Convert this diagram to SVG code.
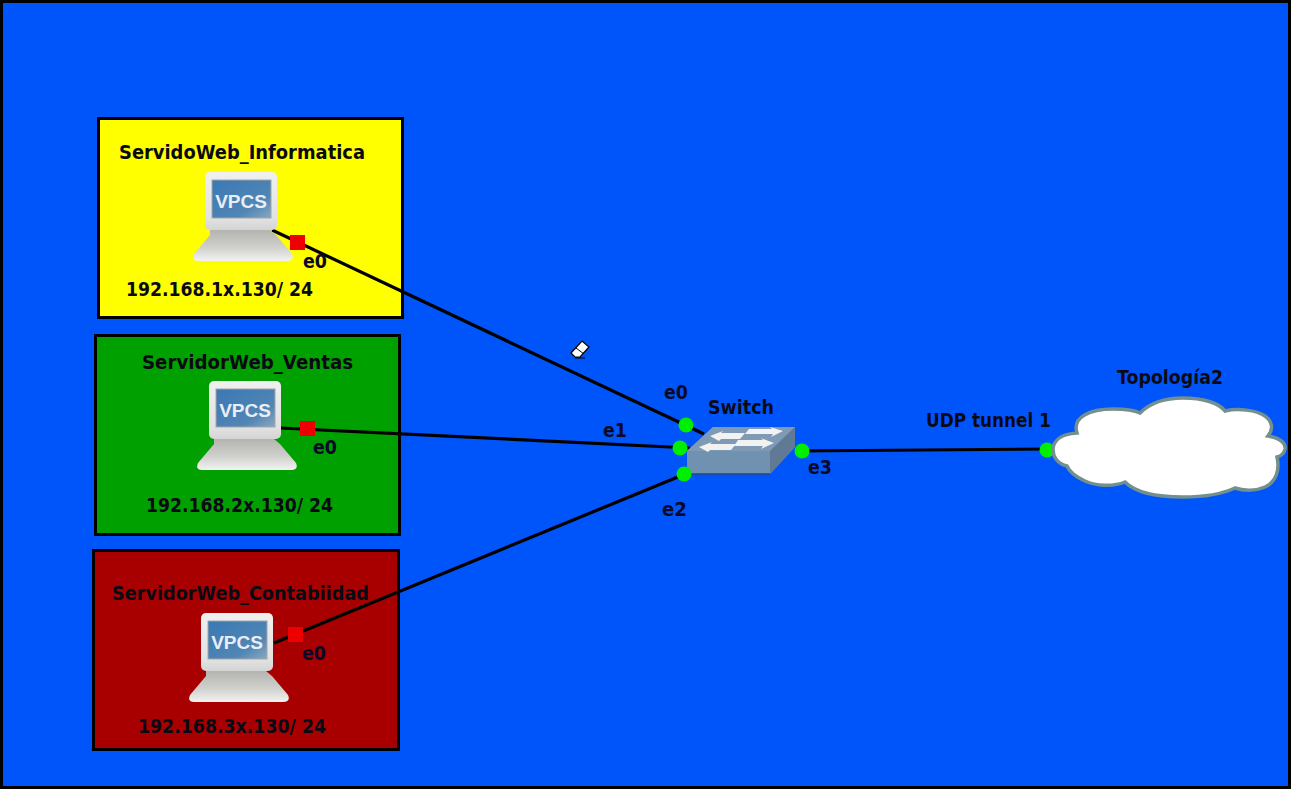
<svg xmlns="http://www.w3.org/2000/svg" width="1291" height="789" viewBox="0 0 1291 789">
<style>
.lbl{font-family:"DejaVu Sans",Verdana,sans-serif;font-size:20px;font-weight:bold;fill:#0a0a14}
.port{font-family:"DejaVu Sans",Verdana,sans-serif;font-size:20px;font-weight:bold;fill:#0a0a28}
.area{stroke:#000;stroke-width:3}
.link{stroke:#000;stroke-width:3.200;fill:none}
.up{fill:#00ee00}
.down{fill:#ee0000}
.vp{font-family:"Liberation Sans",Arial,sans-serif;font-size:19px;font-weight:bold;fill:#e8eef4;text-anchor:middle}
</style>
<defs>
<linearGradient id="gMon" x1="0" y1="0" x2="0" y2="1"><stop offset="0" stop-color="#f0f0f0"/><stop offset=".8" stop-color="#e2e2e2"/><stop offset="1" stop-color="#d4d4d4"/></linearGradient>
<linearGradient id="gBase" x1="0" y1="0" x2="0" y2="1"><stop offset="0" stop-color="#b4b4b0"/><stop offset=".55" stop-color="#cfcfcc"/><stop offset="1" stop-color="#f2f2f2"/></linearGradient>
<linearGradient id="gScr" x1="0" y1="0" x2="1" y2="1"><stop offset="0" stop-color="#3a78b4"/><stop offset=".7" stop-color="#5186b4"/><stop offset="1" stop-color="#88a8c4"/></linearGradient>
<g id="vpcs">
<path d="M5 58H65L71 63 87 82Q90 89 82 89H-7Q-14 89-11 82L5 63Z" fill="url(#gBase)"/>
<rect x="0" y="0" width="72" height="58" rx="5" fill="url(#gMon)"/>
<rect x="7" y="8" width="59" height="38" fill="url(#gScr)" stroke="#a6a6a6"/>
<text class="vp" x="36" y="36">VPCS</text>
</g>
</defs>
<rect x="1.500" y="1.500" width="1288" height="786" fill="#0055fa" stroke="#000" stroke-width="3"/>

<rect id="area-informatica" class="area" x="98.500" y="118.500" width="304" height="199" fill="#ffff00"/>
<rect id="area-ventas" class="area" x="95.500" y="335.500" width="304" height="199" fill="#00a000"/>
<rect id="area-contabilidad" class="area" x="93.500" y="550.500" width="305" height="199" fill="#a80000"/>

<g id="connectors">
<line class="link" x1="272" y1="230" x2="704" y2="434"/>
<line class="link" x1="280" y1="428" x2="690" y2="448"/>
<line class="link" x1="274" y1="643" x2="690" y2="472"/>
<line class="link" x1="795" y1="451" x2="1050" y2="449"/>
</g>

<g id="ServidoWeb_Informatica">
<use href="#vpcs" x="205" y="172"/>
<text class="lbl" x="119" y="159" textLength="246" lengthAdjust="spacingAndGlyphs">ServidoWeb_Informatica</text>
<text class="lbl" x="126" y="296" textLength="187" lengthAdjust="spacingAndGlyphs">192.168.1x.130/ 24</text>
<rect class="down" x="290" y="235" width="15" height="15"/>
<text class="port" x="303" y="268" textLength="24" lengthAdjust="spacingAndGlyphs">e0</text>
</g>
<g id="ServidorWeb_Ventas">
<use href="#vpcs" x="209" y="381"/>
<text class="lbl" x="142" y="369" textLength="211" lengthAdjust="spacingAndGlyphs">ServidorWeb_Ventas</text>
<text class="lbl" x="146" y="512" textLength="187" lengthAdjust="spacingAndGlyphs">192.168.2x.130/ 24</text>
<rect class="down" x="300" y="421" width="15" height="15"/>
<text class="port" x="313" y="454" textLength="24" lengthAdjust="spacingAndGlyphs">e0</text>
</g>
<g id="ServidorWeb_Contabiidad">
<use href="#vpcs" x="201" y="613"/>
<text class="lbl" x="112" y="600" textLength="257" lengthAdjust="spacingAndGlyphs">ServidorWeb_Contabiidad</text>
<text class="lbl" x="138" y="733" textLength="188" lengthAdjust="spacingAndGlyphs">192.168.3x.130/ 24</text>
<rect class="down" x="288" y="627" width="15" height="15"/>
<text class="port" x="302" y="660" textLength="24" lengthAdjust="spacingAndGlyphs">e0</text>
</g>

<g id="Switch">
<path d="M687 451L713 427H795V447L770 474H687Z" fill="#6b8cae"/>
<path d="M687 451L713 427H795L770 451Z" fill="#7f9ab4"/>
<path d="M770 451L795 427V447L770 474Z" fill="#607a96"/>
<rect x="687" y="451" width="83" height="23" fill="#7191b1"/>
<path d="M687 474H770" stroke="#1f4a80" stroke-width="1.500"/>
<g fill="#f2f2f2">
<path d="M710 436L723 431 721 433H745L740 439H721L719 441Z"/>
<path d="M749 429H772L770 427 783 431 771 437 773 434H745Z"/>
<path d="M699 447L712 442 710 444H736L731 450H710L708 452Z"/>
<path d="M738 440H763L761 438 774 443 761 449 763 446H734Z"/>
</g>
<text class="lbl" x="708" y="414" textLength="66" lengthAdjust="spacingAndGlyphs">Switch</text>
<circle class="up" cx="686" cy="425" r="7.500"/>
<circle class="up" cx="680" cy="448" r="7.500"/>
<circle class="up" cx="684" cy="474" r="7.500"/>
<circle class="up" cx="802" cy="451" r="7.500"/>
<text class="port" x="664" y="399" textLength="24" lengthAdjust="spacingAndGlyphs">e0</text>
<text class="port" x="603" y="437" textLength="24" lengthAdjust="spacingAndGlyphs">e1</text>
<text class="port" x="662" y="516" textLength="25" lengthAdjust="spacingAndGlyphs">e2</text>
<text class="port" x="808" y="474" textLength="24" lengthAdjust="spacingAndGlyphs">e3</text>
</g>

<g id="Topologia2">
<circle class="up" cx="1047" cy="450" r="7.500"/>
<path d="M1053 450C1053 440 1062 434 1077 433C1072 417 1090 409 1113 409C1125 409 1134 410 1140 413C1150 403 1166 398 1183 398C1203 398 1219 403 1225 411C1238 408 1256 410 1265 416C1272 421 1274 429 1268 436C1280 438 1286 443 1285 449C1284 454 1281 456 1277 457C1280 470 1276 482 1265 487C1256 491 1244 491 1235 488C1222 494 1203 497 1183 497C1155 497 1135 492 1125 482C1113 487 1096 486 1085 481C1076 477 1070 473 1067 466C1058 464 1053 457 1053 450Z" fill="#fff" stroke="#74908e" stroke-width="3.500"/>
<text class="lbl" x="1117" y="384" textLength="106" lengthAdjust="spacingAndGlyphs">Topología2</text>
<text class="lbl" x="926" y="427" textLength="125" lengthAdjust="spacingAndGlyphs">UDP tunnel 1</text>
</g>

<g id="eraser-cursor">
<path d="M571 353L582 341 589 347 580 357H575Z" fill="#fff" stroke="#000" stroke-width="1.200"/>
<path d="M576 348L584 354" stroke="#000"/>
<path d="M575 358H585" stroke="#000"/>
</g>
</svg>
